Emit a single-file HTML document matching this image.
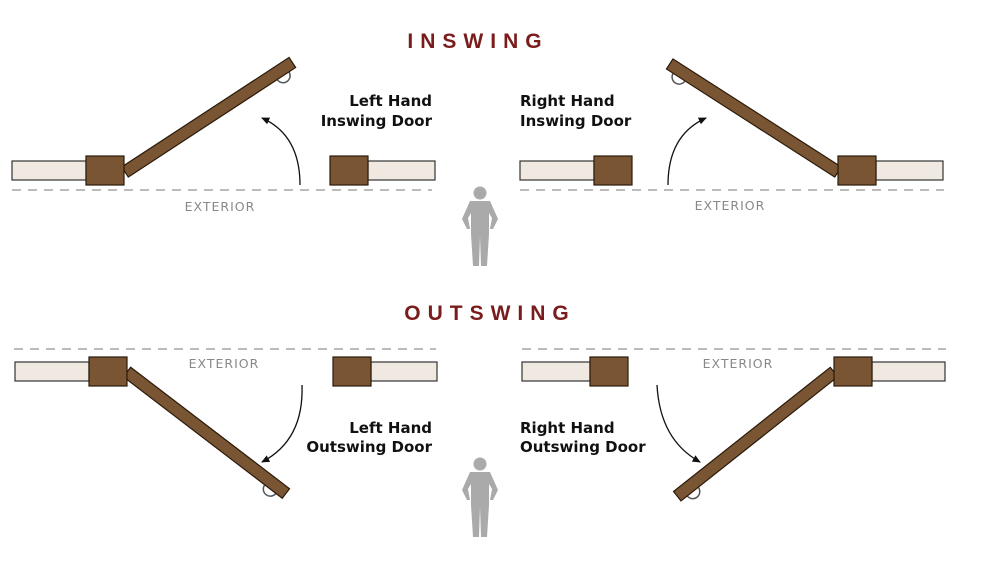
<!DOCTYPE html>
<html><head><meta charset="utf-8"><style>
html,body{margin:0;padding:0;background:#fff;}
svg{display:block;}
.lbl{font-family:"DejaVu Sans","Liberation Sans",sans-serif;font-weight:bold;font-size:15px;fill:#111;}
.ext{font-family:"DejaVu Sans","Liberation Sans",sans-serif;font-size:12.5px;fill:#888;letter-spacing:1px;}
.ttl{font-family:"Liberation Sans",sans-serif;font-weight:bold;font-size:21px;fill:#7a1c1c;letter-spacing:7px;}
</style></head><body>
<svg width="985" height="569" viewBox="0 0 985 569" xmlns="http://www.w3.org/2000/svg">
<defs>
<marker id="ah" viewBox="0 0 10 10" refX="8" refY="5" markerWidth="7" markerHeight="7" orient="auto-start-reverse">
<path d="M0,1 L9,5 L0,9 z" fill="#111"/></marker>
<g id="person" fill="#aaa">
<circle cx="0" cy="7" r="6.5"/>
<path d="M-10,15 L10,15 L18,33 L13,43 L10,43 L12,32 L9,27 L9,48 L7,80 L1,80 L0,50 L-1,80 L-7,80 L-9,48 L-9,27 L-12,32 L-10,43 L-13,43 L-18,33 Z"/>
</g>
<g id="door">
<path d="M192,6 a7,7 0 0 1 -14,0" fill="none" stroke="#555" stroke-width="1.5"/>
<rect x="0" y="-6" width="200" height="12" fill="#7a5533" stroke="#2a1a0a" stroke-width="1.2"/>
</g>
<g id="doorU">
<path d="M192,-6 a7,7 0 0 0 -14,0" fill="none" stroke="#555" stroke-width="1.5"/>
<rect x="0" y="-6" width="200" height="12" fill="#7a5533" stroke="#2a1a0a" stroke-width="1.2"/>
</g>
</defs>

<text x="478" y="48" class="ttl" text-anchor="middle">INSWING</text>
<text x="490" y="320" class="ttl" text-anchor="middle">OUTSWING</text>

<line x1="12" y1="190" x2="432" y2="190" stroke="#bbb" stroke-width="2" stroke-dasharray="9,7"/>
<line x1="520" y1="190" x2="944" y2="190" stroke="#bbb" stroke-width="2" stroke-dasharray="9,7"/>
<text x="220" y="211" class="ext" text-anchor="middle">EXTERIOR</text>
<text x="730" y="210" class="ext" text-anchor="middle">EXTERIOR</text>

<rect x="12" y="161" width="74" height="19" fill="#f0e9e2" stroke="#333" stroke-width="1.2"/>
<rect x="368" y="161" width="67" height="19" fill="#f0e9e2" stroke="#333" stroke-width="1.2"/>
<g transform="translate(125,172) rotate(-33.2)"><use href="#door"/></g>
<rect x="86" y="156" width="38" height="29" fill="#7a5533" stroke="#2a1a0a" stroke-width="1.2"/>
<rect x="330" y="156" width="38" height="29" fill="#7a5533" stroke="#2a1a0a" stroke-width="1.2"/>
<path d="M300,185 Q300,135 262,118" fill="none" stroke="#111" stroke-width="1.3" marker-end="url(#ah)"/>

<rect x="520" y="161" width="74" height="19" fill="#f0e9e2" stroke="#333" stroke-width="1.2"/>
<rect x="876" y="161" width="67" height="19" fill="#f0e9e2" stroke="#333" stroke-width="1.2"/>
<g transform="translate(838,172) rotate(-147.3)"><use href="#doorU"/></g>
<rect x="594" y="156" width="38" height="29" fill="#7a5533" stroke="#2a1a0a" stroke-width="1.2"/>
<rect x="838" y="156" width="38" height="29" fill="#7a5533" stroke="#2a1a0a" stroke-width="1.2"/>
<path d="M668,185 Q668,135 706,118" fill="none" stroke="#111" stroke-width="1.3" marker-end="url(#ah)"/>

<text x="432" y="106" class="lbl" text-anchor="end">Left Hand</text>
<text x="432" y="126" class="lbl" text-anchor="end">Inswing Door</text>
<text x="520" y="106" class="lbl">Right Hand</text>
<text x="520" y="126" class="lbl">Inswing Door</text>

<use href="#person" x="480" y="186"/>
<use href="#person" x="480" y="457"/>

<line x1="14" y1="349" x2="436" y2="349" stroke="#bbb" stroke-width="2" stroke-dasharray="9,7"/>
<line x1="522" y1="349" x2="946" y2="349" stroke="#bbb" stroke-width="2" stroke-dasharray="9,7"/>
<text x="224" y="368" class="ext" text-anchor="middle">EXTERIOR</text>
<text x="738" y="368" class="ext" text-anchor="middle">EXTERIOR</text>

<rect x="15" y="362" width="74" height="19" fill="#f0e9e2" stroke="#333" stroke-width="1.2"/>
<rect x="371" y="362" width="66" height="19" fill="#f0e9e2" stroke="#333" stroke-width="1.2"/>
<g transform="translate(127,372) rotate(37.4)"><use href="#door"/></g>
<rect x="89" y="357" width="38" height="29" fill="#7a5533" stroke="#2a1a0a" stroke-width="1.2"/>
<rect x="333" y="357" width="38" height="29" fill="#7a5533" stroke="#2a1a0a" stroke-width="1.2"/>
<path d="M302,385 Q304,440 262,462" fill="none" stroke="#111" stroke-width="1.3" marker-end="url(#ah)"/>

<rect x="522" y="362" width="68" height="19" fill="#f0e9e2" stroke="#333" stroke-width="1.2"/>
<rect x="872" y="362" width="73" height="19" fill="#f0e9e2" stroke="#333" stroke-width="1.2"/>
<g transform="translate(834,372) rotate(141.6)"><use href="#doorU"/></g>
<rect x="590" y="357" width="38" height="29" fill="#7a5533" stroke="#2a1a0a" stroke-width="1.2"/>
<rect x="834" y="357" width="38" height="29" fill="#7a5533" stroke="#2a1a0a" stroke-width="1.2"/>
<path d="M657,385 Q660,440 700,462" fill="none" stroke="#111" stroke-width="1.3" marker-end="url(#ah)"/>

<text x="432" y="433" class="lbl" text-anchor="end">Left Hand</text>
<text x="432" y="452" class="lbl" text-anchor="end">Outswing Door</text>
<text x="520" y="433" class="lbl">Right Hand</text>
<text x="520" y="452" class="lbl">Outswing Door</text>
</svg>
</body></html>
